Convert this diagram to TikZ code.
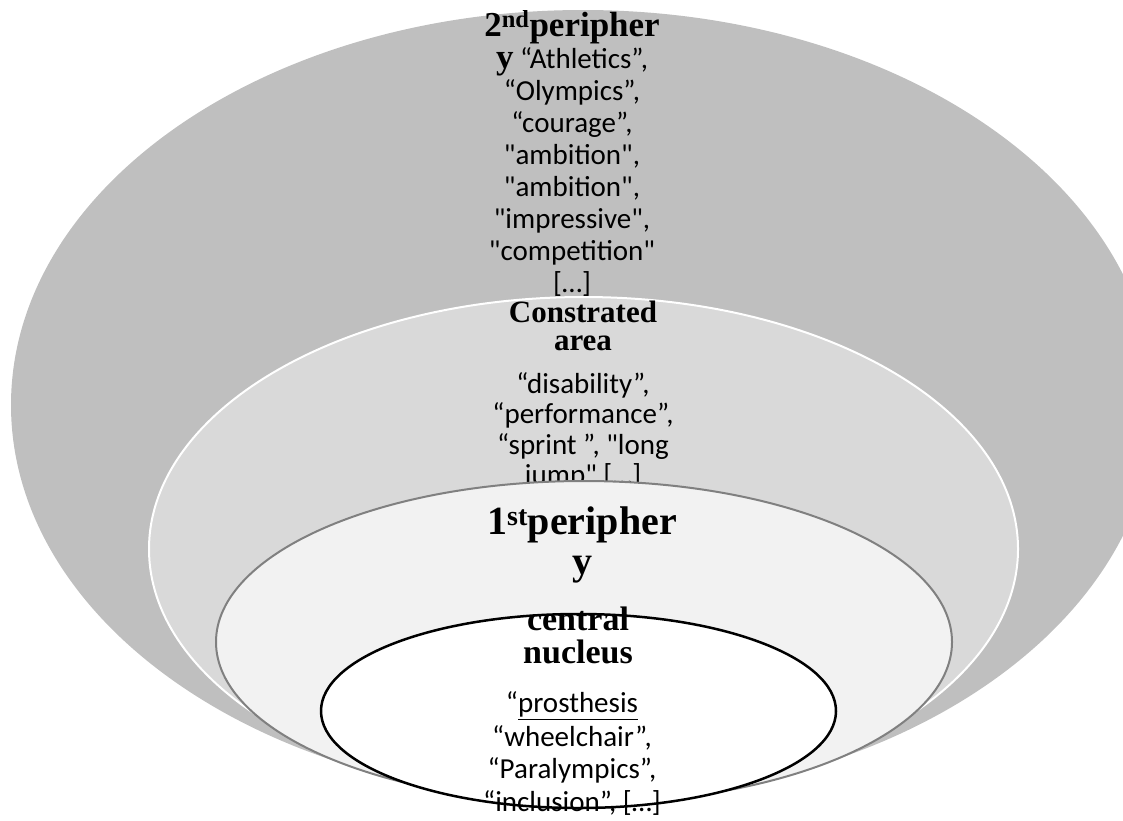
\documentclass[tikz,border=0pt]{standalone}
\usepackage{fontspec}
\setmainfont{Carlito}[Ligatures=TeXOff]
\newfontfamily\headfont{Liberation Serif}
\definecolor{ringouter}{HTML}{BFBFBF}
\definecolor{ringmid}{HTML}{D9D9D9}
\definecolor{ringinner}{HTML}{F2F2F2}
\definecolor{ringedge}{HTML}{808080}

\begin{document}
\begin{tikzpicture}[x=1pt,y=-1pt,
  words/.style={align=center,inner sep=0pt,font=\fontsize{29}{32}\selectfont},
  heading/.style={align=center,inner sep=0pt,font=\headfont\bfseries\fontsize{30}{28}\selectfont}]
  \useasboundingbox (0,0) rectangle (1123,820);
  % 2nd periphery
  \fill[ringouter] (583,405) ellipse [x radius=572pt,y radius=395pt];
  \node[words] (second) at (572,153) {%
    {\headfont\bfseries\fontsize{35}{32}\selectfont 2\textsuperscript{nd}peripher}\\
    {\headfont\bfseries\fontsize{35}{32}\selectfont y} “Athletics”,\\
    “Olympics”,\\ “courage”,\\ "ambition",\\ "ambition",\\
    "impressive",\\ "competition"\\ {[…]}};
  % contrasted area
  \filldraw[fill=ringmid,draw=white,line width=2pt]
    (583.5,549) ellipse [x radius=434.5pt,y radius=252pt];
  \node[heading,font=\headfont\bfseries\fontsize{31}{28}\selectfont] (areatitle) at (583,326)
    {Constrated\\area};
  \node[words,font=\fontsize{29}{30.5}\selectfont] (areawords) at (583,431)
    {“disability”,\\ “performance”,\\ “sprint ”, "long\\ jump" {[…]}};
  % 1st periphery
  \filldraw[fill=ringinner,draw=ringedge,line width=2pt]
    (584,642) ellipse [x radius=368pt,y radius=161pt];
  \node[heading,font=\headfont\bfseries\fontsize{40}{40}\selectfont] (first) at (582,545)
    {1\textsuperscript{st}peripher\\ y};
  % central nucleus
  \filldraw[fill=white,draw=black,line width=2.5pt]
    (578.5,711) ellipse [x radius=257.5pt,y radius=97pt];
  \node[heading,font=\headfont\bfseries\fontsize{34}{33}\selectfont] (coretitle) at (578,635)
    {central\\ nucleus};
  \node[words,font=\fontsize{29}{33}\selectfont] (corewords) at (572,754)
    {“\underline{prosthesis}\\ “wheelchair”,\\ “Paralympics”,\\ “inclusion”, {[…]}};
\end{tikzpicture}
\end{document}
